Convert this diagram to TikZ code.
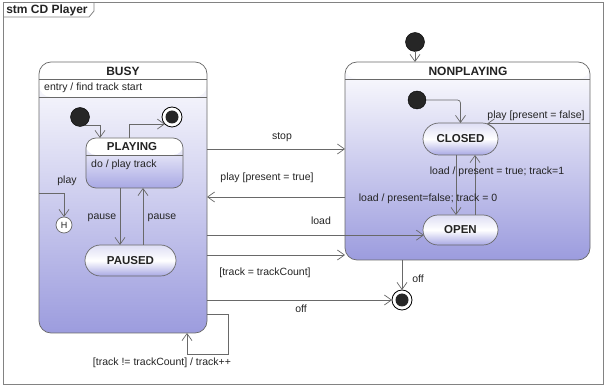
\documentclass[tikz,border=0pt]{standalone}
\usepackage{fontspec}
\setmainfont{Liberation Sans}
\usetikzlibrary{arrows.meta,shapes.misc}
\definecolor{lav}{RGB}{156,156,222}
\definecolor{lavB}{RGB}{168,168,228}
\definecolor{lavL}{RGB}{222,222,244}
\definecolor{linec}{RGB}{105,105,105}
\definecolor{framec}{RGB}{130,130,130}
\definecolor{txt}{RGB}{35,35,35}
\begin{document}
\begin{tikzpicture}[x=1pt,y=-1pt,
  every node/.style={font=\fontsize{10.5}{12}\selectfont, text=txt},
  lbl/.style={inner sep=0pt},
  ttl/.style={inner sep=0pt, font=\bfseries\fontsize{12}{14}\selectfont},
  composite/.style={draw=linec, line width=0.7pt, rounded corners=12pt, inner sep=0pt, outer sep=0pt, top color=white, bottom color=lav},
  simplestate/.style={rounded rectangle, draw=linec, line width=0.7pt, inner sep=0pt, outer sep=0pt, minimum width=75pt, top color=lavL, bottom color=lavB, middle color=white, font=\bfseries\fontsize{11.5}{13}\selectfont},
  initstate/.style={circle, fill=black!85, draw=black, minimum size=19pt, inner sep=0pt, outer sep=0pt},
  finalstate/.style={circle, draw=black, fill=white, line width=0.8pt, minimum size=20pt, inner sep=0pt, outer sep=0pt, path picture={\fill[black!85] (path picture bounding box.center) circle (6.5pt);}},
  histstate/.style={circle, draw=linec, fill=white, line width=0.7pt, minimum size=16pt, inner sep=0pt, outer sep=0pt, font=\fontsize{9}{10}\selectfont},
  sep/.style={draw=linec, line width=0.7pt},
  tr/.style={draw=linec, line width=0.7pt, -{Straight Barb[length=7pt,width=10pt]}}
]
\useasboundingbox (0,0) rectangle (606,390);
% frame
\draw[framec, line width=1pt] (3,3) rectangle (603,385);
\draw[framec, line width=0.8pt] (3,17) -- (89,17) -- (94,11) -- (94,3);
\node[ttl] (frametitle) at (47,10.5) {stm CD Player};

% BUSY
\node[composite, minimum width=168pt, minimum height=271pt,
  path picture={\fill[white] (path picture bounding box.north west) rectangle ([yshift=-35pt]path picture bounding box.north east);}] (BUSY) at (123,197.5) {};
\draw[sep] (BUSY.west |- 0,79) -- (BUSY.east |- 0,79);
\draw[sep] (BUSY.west |- 0,97) -- (BUSY.east |- 0,97);
\node[ttl] (busyt) at (123,71) {BUSY};
\node[lbl, anchor=west] (busye) at (44,88) {entry / find track start};

% NONPLAYING
\node[composite, minimum width=245pt, minimum height=198pt,
  path picture={\fill[white] (path picture bounding box.north west) rectangle ([yshift=-17pt]path picture bounding box.north east);}] (NONP) at (467.5,161) {};
\draw[sep] (NONP.west |- 0,79) -- (NONP.east |- 0,79);
\node[ttl] (nonpt) at (468,71) {NONPLAYING};

% PLAYING
\node[composite, rounded corners=10pt, top color=white, bottom color=lavB, minimum width=97pt, minimum height=50pt,
  path picture={\fill[white] (path picture bounding box.north west) rectangle ([yshift=-17pt]path picture bounding box.north east);}] (PLAYING) at (134.5,163) {};
\draw[sep] (PLAYING.west |- 0,155) -- (PLAYING.east |- 0,155);
\node[ttl, font=\bfseries\fontsize{11.5}{13}\selectfont] (playt) at (132,147) {PLAYING};
\node[lbl, anchor=west] (playd) at (91,165) {do / play track};

% simple states
\node[simplestate, minimum width=91pt, minimum height=31pt] (PAUSED) at (130.5,260.5) {PAUSED};
\node[simplestate, minimum height=32pt] (CLOSED) at (460.5,139) {CLOSED};
\node[simplestate, minimum height=30pt] (OPEN) at (460.5,230) {OPEN};
\node[histstate] (H) at (64,225) {H};

% pseudo states
\node[initstate] (init1) at (80,117) {};
\node[finalstate] (fin1) at (172,117) {};
\node[initstate] (init2) at (415,42) {};
\node[initstate, minimum size=18pt] (init3) at (417,100) {};
\node[finalstate] (fin2) at (402,300) {};

% transitions inside BUSY
\draw[tr] (init1.-60) -| (PLAYING.north -| 100,0);
\draw[tr] (PLAYING.north -| 129,0) |- (fin1.-135);
\draw[tr] (PLAYING.south -| 120,0) -- (PAUSED.north -| 120,0);
\draw[tr] (PAUSED.north -| 143,0) -- (PLAYING.south -| 143,0);
\draw[tr] (BUSY.west |- 0,193) -| (H.north);
\node[lbl] (lpause1) at (102,218) {pause};
\node[lbl] (lpause2) at (162,218) {pause};
\node[lbl] (lplay) at (67,181) {play};

% transitions inside NONPLAYING
\draw[tr] (init2.south) -- (init2.south |- NONP.north);
\draw[tr, rounded corners=3pt] (init3.east) -| (CLOSED.north);
\draw[tr] (NONP.east |- CLOSED.30) -- (CLOSED.30);
\draw[tr] (CLOSED.south -| 456,0) -- (OPEN.north -| 456,0);
\draw[tr] (OPEN.north -| 475,0) -- (CLOSED.south -| 475,0);
\node[lbl] (lplayf) at (536,116) {play [present = false]};
\node[lbl] (lloadt) at (497,172) {load / present = true; track=1};
\node[lbl] (lloadf) at (428,199) {load / present=false; track = 0};

% transitions between composites
\draw[tr] (BUSY.east |- 0,149) -- (NONP.west |- 0,149);
\draw[tr] (NONP.west |- 0,197) -- (BUSY.east |- 0,197);
\draw[tr] (BUSY.east |- OPEN.188) -- (OPEN.188);
\draw[tr] (BUSY.east |- 0,255) -- (NONP.west |- 0,255);
\draw[tr] (BUSY.east |- fin2.west) -- (fin2.west);
\draw[tr] (NONP.south -| fin2.north) -- (fin2.north);
\draw[tr] (BUSY.east |- 0,314) -| (228,354) -| (BUSY.south -| 187,0);
\node[lbl] (lstop) at (282,137) {stop};
\node[lbl] (lplayt) at (267,178) {play [present = true]};
\node[lbl] (lload) at (321,221) {load};
\node[lbl] (ltrack) at (265,273) {[track = trackCount]};
\node[lbl] (loff1) at (301,309) {off};
\node[lbl] (loff2) at (418,279) {off};
\node[lbl] (lself) at (162,363) {[track != trackCount] / track++};
\end{tikzpicture}
\end{document}
